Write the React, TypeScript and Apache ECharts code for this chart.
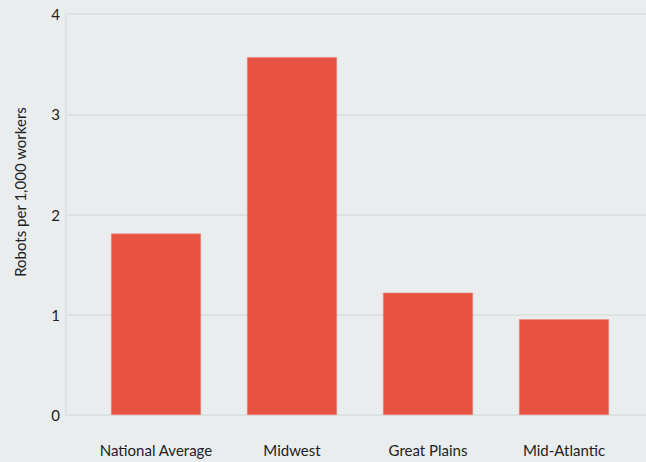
import React, { useEffect, useRef } from "react";
import * as echarts from "echarts";

const categories = ["National Average", "Midwest", "Great Plains", "Mid-Atlantic"];
const robotsPer1000 = [1.81, 3.57, 1.22, 0.955];
const yTicks = { min: 0, max: 4, interval: 1 };
const yAxisTitle = "Robots per 1,000 workers";

const BG = "#e9edee";
const BAR = "#e85242";
const GRID = "#dde1e2";
const TEXT = "#222222";
const FONT = "Lato, 'Open Sans', sans-serif";

export default function App() {
  const ref = useRef<HTMLDivElement>(null);
  useEffect(() => {
    document.body.style.margin = "0";
    document.body.style.background = BG;
    const chart = echarts.init(ref.current!, null, { renderer: "svg" });
    chart.setOption({
      animation: false,
      backgroundColor: BG,
      textStyle: { fontFamily: FONT },
      grid: [
        { left: 66, right: 0, top: 14, bottom: 47 },
        { left: 88, right: 14, top: 14, bottom: 47 },
      ],
      xAxis: [
        { type: "value", gridIndex: 0, show: false, min: 0, max: 1 },
        {
          type: "category",
          gridIndex: 1,
          data: categories,
          axisLine: { show: false },
          axisTick: { show: false },
          axisLabel: { color: TEXT, fontSize: 15, fontFamily: FONT, margin: 27, interval: 0 },
        },
      ],
      yAxis: [
        {
          type: "value",
          gridIndex: 0,
          min: yTicks.min,
          max: yTicks.max,
          interval: yTicks.interval,
          axisLine: { show: true, lineStyle: { color: GRID, width: 2 } },
          axisTick: { show: false },
          splitLine: { show: true, lineStyle: { color: GRID, width: 2 } },
          axisLabel: { color: TEXT, fontSize: 15, fontFamily: FONT, margin: 6 },
        },
        {
          type: "value",
          gridIndex: 1,
          min: yTicks.min,
          max: yTicks.max,
          interval: yTicks.interval,
          show: false,
          splitLine: { show: false },
        },
      ],
      graphic: [
        {
          type: "text",
          x: 20,
          y: 192,
          rotation: Math.PI / 2,
          style: {
            text: yAxisTitle,
            fill: TEXT,
            font: `15px ${FONT}`,
            textAlign: "center",
            textVerticalAlign: "middle",
          },
        },
      ],
      series: [
        {
          type: "bar",
          xAxisIndex: 1,
          yAxisIndex: 1,
          data: robotsPer1000,
          barWidth: 90,
          itemStyle: { color: BAR, borderColor: "#ee8a7e", borderWidth: 0.6 },
        },
      ],
    });
    return () => chart.dispose();
  }, []);
  return <div ref={ref} style={{ width: 646, height: 462, background: BG }} />;
}
